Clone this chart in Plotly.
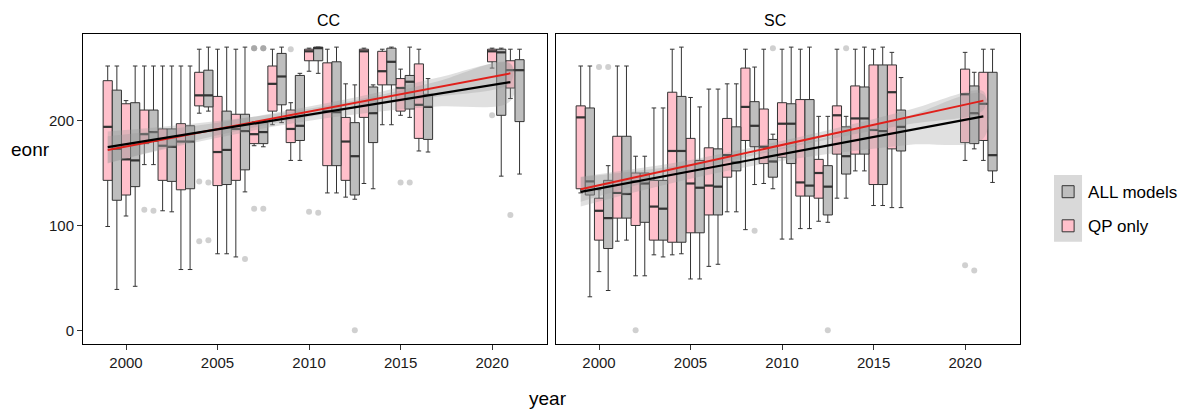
import plotly.graph_objects as go

# ---------------- data ----------------
years = [1999, 2000, 2001, 2002, 2003, 2004, 2005, 2006, 2007, 2008,
         2009, 2010, 2011, 2012, 2013, 2014, 2015, 2016, 2020, 2021]

# CC, QP only (pink)
cc_qp_lw  = [99, 109, 158, 114, 58, 207, 73, 70, 176, 196, 162, 247, 131, 127, 140, 196, 205, 171, 250, 221]
cc_qp_q1  = [143, 129, 178, 143, 134, 214, 138, 143, 178, 209, 179, 257, 157, 143, 203, 234, 209, 183, 256, 231]
cc_qp_med = [194, 163, 187, 176, 180, 224, 170, 192, 187, 235, 192, 266, 209, 180, 266, 247, 231, 215, 266, 248]
cc_qp_q3  = [238, 216, 210, 192, 197, 246, 223, 206, 197, 252, 210, 268, 255, 203, 268, 266, 240, 254, 268, 257]
cc_qp_uw  = [252, 219, 252, 252, 252, 268, 268, 268, 199, 268, 217, 269, 268, 235, 269, 268, 249, 268, 269, 268]

# CC, ALL models (grey)
cc_all_lw  = [39, 42, 158, 113, 58, 209, 73, 132, 175, 198, 162, 245, 131, 125, 135, 196, 203, 170, 147, 149]
cc_all_q1  = [124, 137, 180, 142, 135, 213, 139, 153, 178, 215, 181, 257, 157, 129, 179, 234, 211, 182, 205, 199]
cc_all_med = [173, 162, 189, 175, 180, 224, 172, 190, 189, 242, 195, 269, 208, 166, 207, 256, 237, 213, 265, 248]
cc_all_q3  = [229, 217, 210, 192, 195, 248, 209, 206, 198, 264, 243, 270, 256, 198, 232, 269, 243, 225, 268, 258]
cc_all_uw  = [252, 252, 252, 252, 252, 270, 270, 270, 200, 270, 245, 270, 270, 234, 234, 270, 270, 240, 269, 268]

# SC, QP only (pink)
sc_qp_lw  = [131, 56, 85, 52, 72, 72, 49, 61, 113, 96, 140, 87, 97, 104, 126, 152, 119, 117, 162, 162]
sc_qp_q1  = [135, 86, 107, 100, 86, 84, 93, 110, 146, 181, 159, 165, 128, 126, 168, 168, 139, 173, 179, 181]
sc_qp_med = [203, 114, 131, 142, 118, 171, 140, 138, 167, 213, 175, 197, 141, 150, 205, 202, 191, 227, 225, 216]
sc_qp_q3  = [214, 126, 185, 150, 143, 227, 183, 174, 202, 250, 211, 217, 220, 163, 214, 233, 253, 253, 249, 246]
sc_qp_uw  = [252, 134, 252, 166, 212, 268, 222, 230, 235, 268, 268, 268, 268, 204, 268, 268, 268, 265, 265, 268]

# SC, ALL models (grey)
sc_all_lw  = [32, 38, 86, 52, 70, 73, 49, 63, 113, 139, 135, 87, 97, 103, 126, 152, 119, 117, 173, 141]
sc_all_q1  = [129, 78, 107, 103, 86, 84, 93, 110, 152, 175, 146, 159, 128, 110, 149, 168, 139, 171, 178, 152]
sc_all_med = [142, 107, 130, 140, 116, 171, 136, 137, 160, 195, 161, 197, 138, 137, 166, 202, 190, 194, 207, 167]
sc_all_q3  = [212, 143, 185, 150, 143, 223, 162, 173, 194, 218, 182, 216, 220, 157, 194, 232, 253, 210, 233, 246]
sc_all_uw  = [252, 157, 252, 166, 212, 270, 213, 230, 235, 251, 187, 270, 270, 204, 204, 270, 270, 241, 246, 268]

# outliers
cc_qp_out_x  = [2001, 2004, 2004, 2007, 2007, 2007, 2007, 2009, 2010, 2015, 2020, 2021]
cc_qp_out_y  = [115, 142, 85, 269, 269, 269, 116, 268, 113, 141, 205, 110]
cc_all_out_x = [2001, 2004, 2004, 2006, 2007, 2007, 2007, 2007, 2010, 2012, 2015]
cc_all_out_y = [114, 141, 86, 68, 269, 269, 269, 116, 112, 0, 141]
sc_qp_out_x  = [2000, 2002, 2020]
sc_qp_out_y  = [251, 0, 62]
sc_all_out_x = [2000, 2008, 2009, 2012, 2013, 2020]
sc_all_out_y = [251, 95, 269, 0, 269, 57]

# linear fits (endpoints) and confidence bands
fit_years = [1999, 2021]
cc_all_fit = [174.6, 236.6]
cc_qp_fit = [172.0, 245.0]
sc_all_fit = [132.0, 204.0]
sc_qp_fit = [134.5, 219.0]

band_years = [1999, 2002, 2005, 2008, 2011, 2014, 2017, 2021]
cc_all_lo = [159.6, 172.1, 183.5, 194.0, 202.4, 208.9, 213.3, 218.6]
cc_all_hi = [189.6, 194.1, 199.5, 206.0, 214.4, 224.9, 237.3, 254.6]
cc_qp_lo  = [159.0, 173.0, 185.9, 196.9, 206.8, 215.8, 222.7, 236.0]
cc_qp_hi  = [185.0, 191.0, 197.9, 206.9, 216.8, 227.8, 240.7, 254.0]
sc_all_lo = [118.0, 131.8, 144.6, 155.5, 164.3, 171.1, 176.9, 183.0]
sc_all_hi = [146.0, 151.8, 158.6, 167.5, 178.3, 191.1, 204.9, 225.0]
sc_qp_lo  = [122.5, 138.0, 152.5, 165.0, 176.6, 187.1, 196.6, 210.0]
sc_qp_hi  = [146.5, 154.0, 162.5, 173.0, 184.6, 197.1, 210.6, 228.0]

panels = ["CC", "SC"]
group_names = ["ALL models", "QP only"]

# ---------------- styles ----------------
PINK = "#FFC0CB"
GREY = "#BEBEBE"
EDGE = "#333333"
RED = "#E0201B"
BAND = "rgba(153,153,153,0.3)"
OUTC = "rgba(150,150,150,0.45)"
FONT = "Liberation Sans, Arial, sans-serif"
DODGE = 0.5  # grey boxes sit half a year to the right

fig = go.Figure()

def add_panel(xa, ya, qp, allm, qp_out, all_out, fits, bands, show_legend):
    qlw, qq1, qmed, qq3, quw = qp
    alw, aq1, amed, aq3, auw = allm
    gx = [y + DODGE for y in years]
    fig.add_trace(go.Box(x=years, q1=qq1, median=qmed, q3=qq3, lowerfence=qlw, upperfence=quw,
                         width=0.5, fillcolor=PINK, line=dict(color=EDGE, width=1),
                         boxpoints=False, name=group_names[1], legendgroup="qp", legendrank=2,
                         showlegend=show_legend, xaxis=xa, yaxis=ya, hoverinfo="skip"))
    fig.add_trace(go.Box(x=gx, q1=aq1, median=amed, q3=aq3, lowerfence=alw, upperfence=auw,
                         width=0.5, fillcolor=GREY, line=dict(color=EDGE, width=1),
                         boxpoints=False, name=group_names[0], legendgroup="all", legendrank=1,
                         showlegend=show_legend, xaxis=xa, yaxis=ya, hoverinfo="skip"))
    for xs, meds in ((years, qmed), (gx, amed)):
        mx, my = [], []
        for x, m in zip(xs, meds):
            mx += [x - 0.25, x + 0.25, None]
            my += [m, m, None]
        fig.add_trace(go.Scatter(x=mx, y=my, mode="lines", line=dict(color=EDGE, width=2.2),
                                 showlegend=False, xaxis=xa, yaxis=ya, hoverinfo="skip"))
    fig.add_trace(go.Scatter(x=qp_out[0], y=qp_out[1], mode="markers",
                             marker=dict(size=6, color=OUTC, line=dict(width=0)),
                             showlegend=False, xaxis=xa, yaxis=ya, hoverinfo="skip"))
    fig.add_trace(go.Scatter(x=[v + DODGE for v in all_out[0]], y=all_out[1], mode="markers",
                             marker=dict(size=6, color=OUTC, line=dict(width=0)),
                             showlegend=False, xaxis=xa, yaxis=ya, hoverinfo="skip"))
    for lo, hi in bands:
        fig.add_trace(go.Scatter(x=band_years + band_years[::-1], y=hi + lo[::-1],
                                 fill="toself", fillcolor=BAND, line=dict(width=0, shape="spline"),
                                 mode="lines", showlegend=False, xaxis=xa, yaxis=ya, hoverinfo="skip"))
    all_fit, qp_fit = fits
    fig.add_trace(go.Scatter(x=fit_years, y=qp_fit, mode="lines", line=dict(color=RED, width=2),
                             showlegend=False, xaxis=xa, yaxis=ya, hoverinfo="skip"))
    fig.add_trace(go.Scatter(x=fit_years, y=all_fit, mode="lines", line=dict(color="black", width=2.2),
                             showlegend=False, xaxis=xa, yaxis=ya, hoverinfo="skip"))

add_panel("x", "y",
          (cc_qp_lw, cc_qp_q1, cc_qp_med, cc_qp_q3, cc_qp_uw),
          (cc_all_lw, cc_all_q1, cc_all_med, cc_all_q3, cc_all_uw),
          (cc_qp_out_x, cc_qp_out_y), (cc_all_out_x, cc_all_out_y),
          (cc_all_fit, cc_qp_fit),
          ((cc_all_lo, cc_all_hi), (cc_qp_lo, cc_qp_hi)), True)
add_panel("x2", "y2",
          (sc_qp_lw, sc_qp_q1, sc_qp_med, sc_qp_q3, sc_qp_uw),
          (sc_all_lw, sc_all_q1, sc_all_med, sc_all_q3, sc_all_uw),
          (sc_qp_out_x, sc_qp_out_y), (sc_all_out_x, sc_all_out_y),
          (sc_all_fit, sc_qp_fit),
          ((sc_all_lo, sc_all_hi), (sc_qp_lo, sc_qp_hi)), False)

xrange = [1997.65, 2023.0]
yrange = [-13, 282.5]
xticks = [2000, 2005, 2010, 2015, 2020]
ax_common = dict(range=xrange, tickvals=xticks, ticktext=[str(t) for t in xticks],
                 ticks="outside", ticklen=5, tickcolor=EDGE, tickwidth=1,
                 showline=True, mirror=True, linecolor="black", linewidth=1,
                 showgrid=False, zeroline=False,
                 tickfont=dict(family=FONT, size=15, color="#1a1a1a"))

# page has an 8px body margin, so the figure is drawn 8px smaller
fig.update_layout(
    width=1190, height=403,
    margin=dict(l=75, r=178, t=26, b=67),
    plot_bgcolor="white", paper_bgcolor="white",
    boxmode="overlay",
    font=dict(family=FONT, color="black"),
    xaxis=dict(domain=[0, 0.4952], anchor="y", **ax_common),
    xaxis2=dict(domain=[0.5048, 1], anchor="y2", **ax_common),
    yaxis=dict(domain=[0, 1], range=yrange, tickvals=[0, 100, 200],
               ticks="outside", ticklen=5, tickcolor=EDGE, showline=True, mirror=True,
               linecolor="black", linewidth=1, showgrid=False, zeroline=False,
               tickfont=dict(family=FONT, size=15, color="#1a1a1a")),
    yaxis2=dict(domain=[0, 1], range=yrange, anchor="x2", showticklabels=False, ticks="",
                showline=True, mirror=True, linecolor="black", linewidth=1,
                showgrid=False, zeroline=False),
    legend=dict(x=1.03, y=0.435, xanchor="left", yanchor="middle",
                font=dict(family=FONT, size=17, color="black"),
                bgcolor="rgba(0,0,0,0)", tracegroupgap=9),
    shapes=[dict(type="rect", xref="paper", yref="paper", x0=1.0363, x1=1.0662,
                 y0=0.33, y1=0.545, fillcolor="#d9d9d9", line=dict(width=0), layer="below")],
    annotations=[
        dict(text=panels[0], x=0.2476, y=1, xref="paper", yref="paper", yanchor="bottom",
             yshift=3, showarrow=False, font=dict(family=FONT, size=16, color="black")),
        dict(text=panels[1], x=0.7524, y=1, xref="paper", yref="paper", yanchor="bottom",
             yshift=3, showarrow=False, font=dict(family=FONT, size=16, color="black")),
        dict(text="year", x=0.496, y=0, xref="paper", yref="paper", yanchor="top",
             yshift=-42, showarrow=False, font=dict(family=FONT, size=19, color="black")),
        dict(text="eonr", x=0, y=0.626, xref="paper", yref="paper", xanchor="center",
             xshift=-53, showarrow=False, font=dict(family=FONT, size=19, color="black")),
    ],
)

fig.write_html("out.html")
